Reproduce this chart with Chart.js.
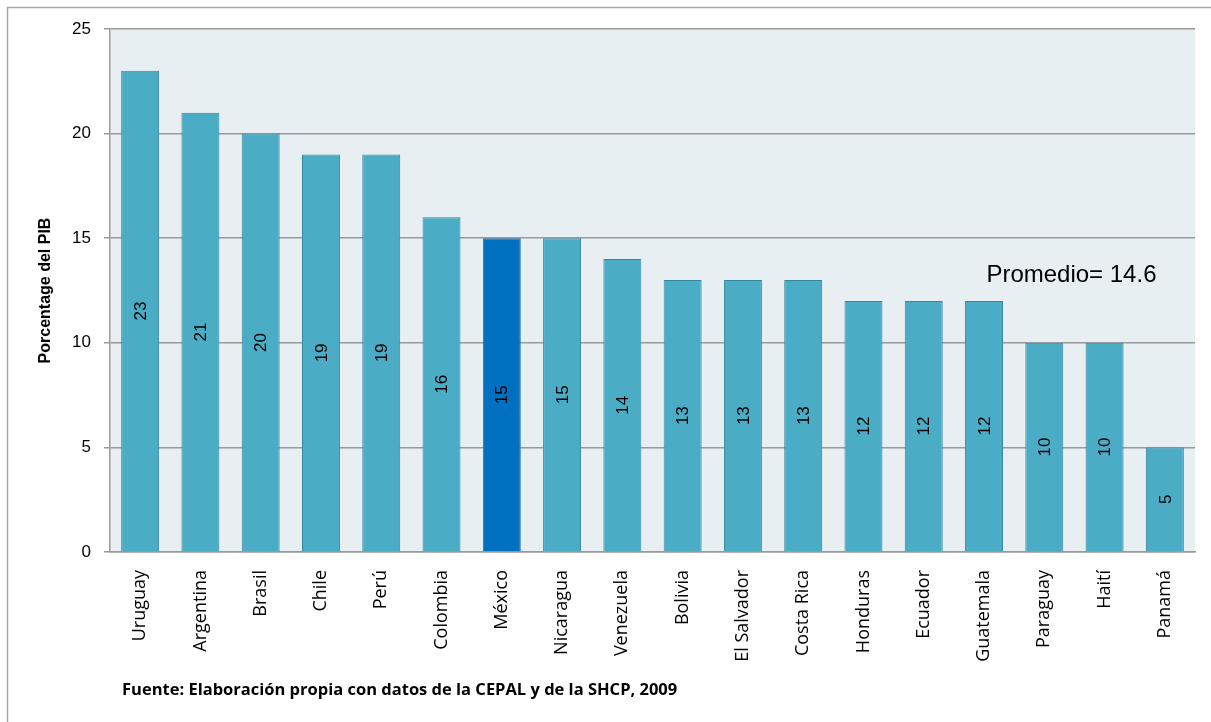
<!DOCTYPE html>
<html>
<head>
<meta charset="utf-8">
<script src="https://cdn.jsdelivr.net/npm/chart.js@4.4.0/dist/chart.umd.min.js"></script>
<style>
  html, body { margin: 0; padding: 0; background: #fff; }
  #wrap { position: relative; width: 1211px; height: 722px; }
</style>
</head>
<body>
<div id="wrap"><canvas id="myChart" width="1211" height="722"></canvas></div>
<script>
// data
var paises = ['Uruguay', 'Argentina', 'Brasil', 'Chile', 'Perú', 'Colombia', 'México', 'Nicaragua',
    'Venezuela', 'Bolivia', 'El Salvador', 'Costa Rica', 'Honduras', 'Ecuador', 'Guatemala',
    'Paraguay', 'Haití', 'Panamá'];
var valores = [23, 21, 20, 19, 19, 16, 15, 15, 14, 13, 13, 13, 12, 12, 12, 10, 10, 5];
var yTicks = [0, 5, 10, 15, 20, 25];
var promedio = 'Promedio= 14.6';
var fuente = 'Fuente: Elaboración propia con datos de la CEPAL y de la SHCP, 2009';

var colorBarra = '#4bacc6';
var colorMexico = '#0070c0';

var colores = paises.map(function(p) { return p === 'México' ? colorMexico : colorBarra; });
var bordes = paises.map(function(p) { return p === 'México' ? '#2f6f9f' : '#35879f'; });

// fondo del area de la grafica + marco exterior + textos
var extras = {
    id: 'extras',
    beforeDraw: function(chart) {
        var ctx = chart.ctx, a = chart.chartArea;
        ctx.save();
        ctx.fillStyle = '#fff';
        ctx.fillRect(0, 0, chart.width, chart.height);
        ctx.fillStyle = '#e8eff3';
        ctx.fillRect(a.left, a.top, a.right - a.left, a.bottom - a.top);
        ctx.strokeStyle = '#a6a6a6';
        ctx.lineWidth = 1.5;
        ctx.beginPath();
        ctx.moveTo(7.5, chart.height);
        ctx.lineTo(7.5, 7.5);
        ctx.lineTo(chart.width, 7.5);
        ctx.stroke();
        ctx.restore();
    },
    afterDatasetsDraw: function(chart) {
        var ctx = chart.ctx;
        var meta = chart.getDatasetMeta(0);
        ctx.save();
        ctx.fillStyle = '#000';
        ctx.font = '17px "Liberation Sans", Arial, sans-serif';
        ctx.textAlign = 'center';
        ctx.textBaseline = 'middle';
        meta.data.forEach(function(bar, i) {
            ctx.save();
            ctx.translate(bar.x, (bar.y + bar.base) / 2);
            ctx.rotate(-Math.PI / 2);
            ctx.fillText(String(valores[i]), 0, 1);
            ctx.restore();
        });
        // promedio
        var xs = chart.scales.x, ys = chart.scales.y;
        ctx.font = '24px "Liberation Sans", Arial, sans-serif';
        ctx.fillText(promedio, xs.getPixelForValue(15.45), ys.getPixelForValue(13.2));
        // fuente
        ctx.font = 'bold 16.5px "Open Sans", sans-serif';
        ctx.textAlign = 'left';
        ctx.fillText(fuente, 122, 690);
        ctx.restore();
    }
};

var myChart = document.getElementById('myChart').getContext('2d');
var grafica = new Chart(myChart, {
    type: 'bar',
    data: {
        labels: paises,
        datasets: [
            {
                data: valores,
                backgroundColor: colores,
                borderColor: bordes,
                borderWidth: 1,
                barPercentage: 0.63,
                categoryPercentage: 1
            }
        ]
    },
    options: {
        responsive: false,
        animation: false,
        layout: { padding: { top: 29, right: 16, left: 0, bottom: 0 } },
        plugins: {
            legend: { display: false },
            tooltip: { enabled: false }
        },
        scales: {
            x: {
                grid: { display: false, drawTicks: false },
                border: { color: '#9a9a9a', width: 1.5 },
                ticks: {
                    minRotation: 90,
                    maxRotation: 90,
                    autoSkip: false,
                    padding: 18,
                    color: '#000',
                    font: { family: '"Open Sans", sans-serif', size: 18 }
                },
                afterFit: function(scale) { scale.height = 170; }
            },
            y: {
                min: 0,
                max: 25,
                afterBuildTicks: function(scale) {
                    scale.ticks = yTicks.map(function(v) { return { value: v }; });
                },
                grid: { color: '#9a9a9a', lineWidth: 1.5, tickLength: 6 },
                border: { color: '#9a9a9a', width: 1.5 },
                ticks: {
                    padding: 13,
                    color: '#000',
                    font: { family: '"Liberation Sans", Arial, sans-serif', size: 17 }
                },
                title: {
                    display: true,
                    text: 'Porcentage del PIB',
                    color: '#000',
                    padding: { top: 36, bottom: 0 },
                    font: { family: '"Liberation Sans", Arial, sans-serif', size: 16, weight: 'bold' }
                },
                afterFit: function(scale) { scale.width = 110; }
            }
        }
    },
    plugins: [extras]
});
</script>
</body>
</html>
